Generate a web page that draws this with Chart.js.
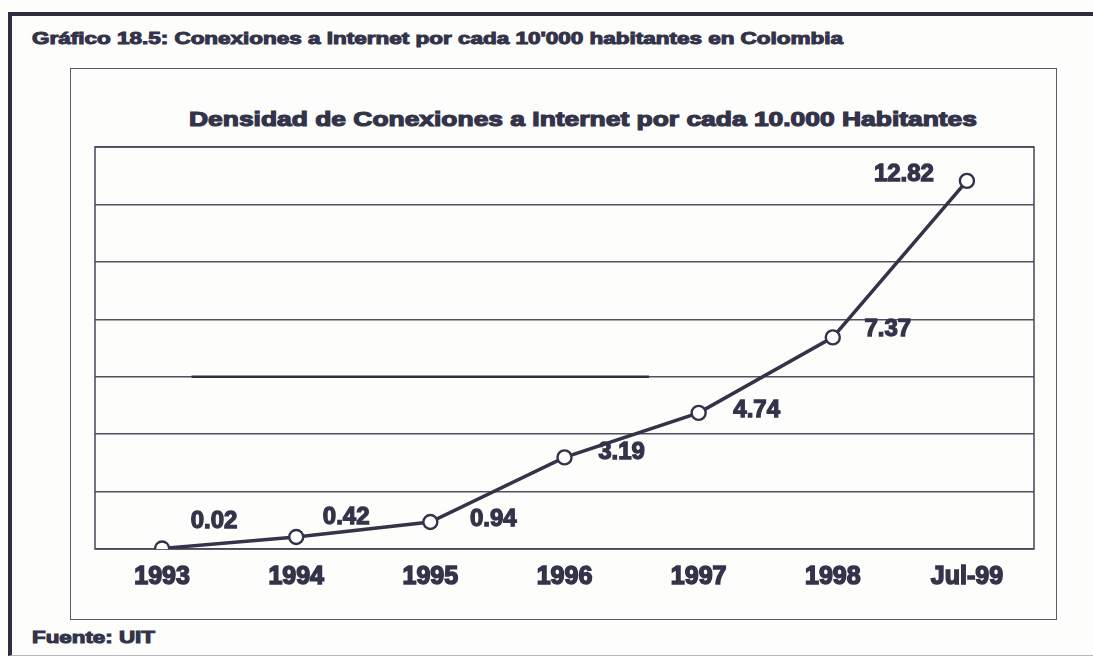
<!DOCTYPE html>
<html lang="es">
<head>
<meta charset="UTF-8">
<title>Conexiones a Internet en Colombia</title>
<script src="https://cdn.jsdelivr.net/npm/chart.js"></script>
<style>
    html, body { margin: 0; padding: 0; background: #fdfdfb; }
    body { font-family: 'Liberation Sans', Arial, sans-serif; color: #33334a; }
    #page { position: relative; width: 1093px; height: 657px; overflow: hidden; }
    .outer { position: absolute; left: 8px; top: 12px; width: 1200px; height: 639px;
             border-top: 4px solid #2e2e40; border-left: 4px solid #2e2e40; border-bottom: 1px solid #b8b8c0; }
    .inner { position: absolute; left: 70px; top: 68px; width: 985px; height: 550px; border: 1.5px solid #5a5a68; }
    .txt { position: absolute; font-weight: bold; white-space: nowrap; transform-origin: left center;
           -webkit-text-stroke: 1px #33334a; line-height: 1; }
    #hdr { left: 32px; top: 31px; font-size: 16px; }
    #ttl { left: 189px; top: 108px; font-size: 21px; -webkit-text-stroke: 1.2px #33334a; }
    #src { left: 32px; top: 630px; font-size: 16px; }
    canvas { position: absolute; left: 0; top: 0; }
</style>
</head>
<body>
<div id="page">
    <div class="outer"></div>
    <div class="inner"></div>
    <div class="txt" id="hdr" data-w="811">Gráfico 18.5: Conexiones a Internet por cada 10'000 habitantes en Colombia</div>
    <div class="txt" id="ttl" data-w="788">Densidad de Conexiones a Internet por cada 10.000 Habitantes</div>
    <div class="txt" id="src" data-w="123">Fuente: UIT</div>
    <canvas id="densityChart" width="1093" height="657"></canvas>
</div>
<script>
    // --- DATA ---
    const categories = ['1993', '1994', '1995', '1996', '1997', '1998', 'Jul-99'];
    const density = [0.02, 0.42, 0.94, 3.19, 4.74, 7.37, 12.82];
    const valueLabels = ['0.02', '0.42', '0.94', '3.19', '4.74', '7.37', '12.82'];
    const yMin = 0, yMax = 14, yStep = 2;

    // label placement relative to each point (px)
    const labelOffsets = [[52, -27], [50, -20], [63, -3], [57, -5], [58, -3], [55, -8], [-63, -7]];

    const ink = '#33334a';

    // stretch the html texts to the widths of the scan
    document.querySelectorAll('.txt').forEach(el => {
        const w = el.getBoundingClientRect().width;
        el.style.transform = `scaleX(${el.dataset.w / w})`;
    });

    // plot frame + the darker stroke that sits on the 6 gridline in the scan
    const framePlugin = {
        id: 'frame',
        beforeDatasetsDraw(chart) {
            const { ctx, chartArea: a, scales } = chart;
            ctx.save();
            ctx.strokeStyle = '#45455a';
            ctx.lineWidth = 1.5;
            ctx.strokeRect(a.left, a.top, a.right - a.left, a.bottom - a.top);
            const y6 = scales.y.getPixelForValue(6);
            ctx.lineWidth = 2.5;
            ctx.strokeStyle = '#2e2e40';
            ctx.beginPath();
            ctx.moveTo(scales.x.getPixelForValue(0.22), y6);
            ctx.lineTo(scales.x.getPixelForValue(3.63), y6);
            ctx.stroke();
            ctx.restore();
        }
    };

    const valueLabelPlugin = {
        id: 'valueLabels',
        afterDatasetsDraw(chart) {
            const { ctx } = chart;
            const pts = chart.getDatasetMeta(0).data;
            ctx.save();
            ctx.font = 'bold 24px "Liberation Sans", Arial, sans-serif';
            ctx.fillStyle = ink;
            ctx.strokeStyle = ink;
            ctx.lineWidth = 1.3;
            ctx.textAlign = 'center';
            ctx.textBaseline = 'middle';
            pts.forEach((p, i) => {
                const x = p.x + labelOffsets[i][0], y = p.y + labelOffsets[i][1];
                ctx.fillText(valueLabels[i], x, y);
                ctx.strokeText(valueLabels[i], x, y);
            });
            ctx.restore();
        }
    };

    new Chart(document.getElementById('densityChart'), {
        type: 'line',
        data: {
            labels: categories,
            datasets: [{
                data: density,
                borderColor: ink,
                borderWidth: 3.5,
                tension: 0,
                pointRadius: 7,
                pointBorderWidth: 2.4,
                pointBackgroundColor: '#ffffff',
                pointBorderColor: ink
            }]
        },
        options: {
            responsive: false,
            animation: false,
            layout: { padding: { left: 95, right: 59, top: 147, bottom: 48 } },
            plugins: { legend: { display: false }, tooltip: { enabled: false } },
            scales: {
                x: {
                    offset: true,
                    grid: { display: false, drawTicks: false },
                    border: { display: false },
                    ticks: {
                        padding: 13,
                        color: ink,
                        textStrokeColor: ink,
                        textStrokeWidth: 1.5,
                        font: { family: '"Liberation Sans", Arial, sans-serif', size: 25, weight: 'bold' }
                    },
                    afterFit(scale) { scale.height = 60; }
                },
                y: {
                    min: yMin,
                    max: yMax,
                    grid: { color: '#50505e', lineWidth: 1.4, drawTicks: false },
                    border: { display: false },
                    ticks: { display: false, stepSize: yStep },
                    afterFit(scale) { scale.width = 0; }
                }
            }
        },
        plugins: [framePlugin, valueLabelPlugin]
    });
</script>
</body>
</html>
